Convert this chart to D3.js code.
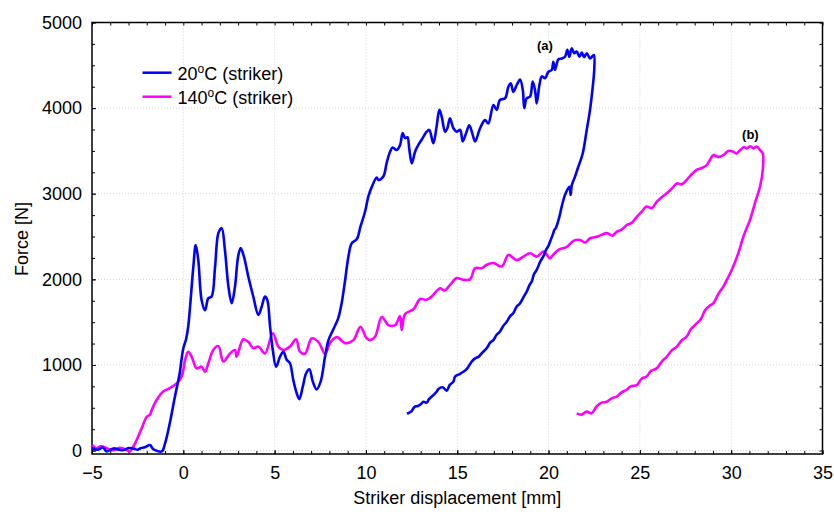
<!DOCTYPE html>
<html lang="en">
<head>
<meta charset="utf-8">
<title>Force vs striker displacement</title>
<script src="https://cdn.jsdelivr.net/npm/d3@7"></script>
<style>
  body { margin: 0; background: #fff; }
  #chart text { font-family: "Liberation Sans", Arial, sans-serif; fill: #000; }
  .grid line { stroke: #d4d4d4; stroke-width: 1; stroke-dasharray: 1,2; }
  .axis path { display: none; }
  .axis line { stroke: #000; stroke-width: 1; }
</style>
</head>
<body>
<div id="chart"></div>
<script>
"use strict"

// 20 C (striker) – displacement [mm] and force [N]
var disp20 = [-5.0, -4.7, -4.4, -4.2, -3.83, -3.5, -3.29, -3.0, -2.74, -2.5, -2.37, -2.1, -1.82, -1.7, -1.55, -1.18, -1.0, -0.73, -0.45, -0.2, -0.1, 0.0, 0.15, 0.27, 0.37, 0.55, 0.68, 0.82, 1.0, 1.19, 1.37, 1.55, 1.74, 1.92, 2.1, 2.28, 2.47, 2.65, 2.83, 3.0, 3.14, 3.32, 3.56, 3.83, 4.11, 4.29, 4.47, 4.6, 4.75, 4.9, 5.08, 5.3, 5.48, 5.66, 5.84, 6.02, 6.21, 6.35, 6.54, 6.72, 6.9, 7.09, 7.3, 7.52, 7.76, 7.95, 8.2, 8.48, 8.67, 8.86, 9.04, 9.22, 9.5, 9.7, 9.95, 10.13, 10.32, 10.59, 10.68, 10.95, 11.13, 11.32, 11.46, 11.68, 11.87, 12.01, 12.14, 12.27, 12.38, 12.51, 12.69, 12.87, 13.05, 13.2, 13.33, 13.47, 13.69, 13.87, 14.02, 14.15, 14.33, 14.46, 14.6, 14.79, 14.97, 15.16, 15.3, 15.48, 15.66, 15.85, 15.98, 16.25, 16.52, 16.7, 16.98, 17.16, 17.34, 17.62, 17.8, 17.93, 18.07, 18.26, 18.44, 18.59, 18.67, 18.8, 18.99, 19.13, 19.26, 19.35, 19.5, 19.63, 19.81, 19.99, 20.17, 20.26, 20.35, 20.54, 20.72, 20.9, 21.03, 21.14, 21.27, 21.4, 21.54, 21.69, 21.82, 21.94, 22.09, 22.27, 22.42, 22.49,
  22.5, 22.42, 22.27, 22.09, 21.87, 21.63, 21.45, 21.27, 21.21, 21.14, 20.9, 20.72, 20.59, 20.4, 20.3, 20.26, 20.1, 19.99, 19.85, 19.72, 19.55, 19.35, 19.2, 19.08, 18.95, 18.8, 18.62, 18.44, 18.25, 18.07, 17.9, 17.71, 17.5, 17.34, 17.15, 16.98, 16.8, 16.61, 16.4, 16.16, 16.0, 15.79, 15.55, 15.33, 15.1, 14.88, 14.79, 14.6, 14.42, 14.2, 13.97, 13.88, 13.75, 13.6, 13.45, 13.33, 13.15, 13.0, 12.85, 12.69, 12.6, 12.5, 12.42, 12.25];
var force20 = [30, 10, 35, -10, 25, 10, 5, 30, 25, 10, 25, 40, 65, 30, 5, -10, 85, 330, 640, 900, 1060, 1195, 1300, 1450, 1680, 2150, 2400, 2225, 1760, 1640, 1780, 1800, 2150, 2540, 2600, 2340, 1915, 1720, 1915, 2265, 2365, 2265, 2030, 1800, 1585, 1680, 1800, 1760, 1450, 1175, 980, 1100, 1155, 1060, 1020, 825, 670, 600, 745, 900, 950, 805, 715, 805, 1095, 1290, 1410, 1545, 1720, 1990, 2265, 2420, 2470, 2615, 2790, 2965, 3080, 3190, 3160, 3200, 3355, 3490, 3540, 3510, 3570, 3710, 3650, 3660, 3510, 3355, 3490, 3570, 3630, 3685, 3725, 3745, 3590, 3785, 3980, 3900, 3725, 3765, 3880, 3765, 3725, 3745, 3610, 3705, 3800, 3685, 3610, 3765, 3860, 3820, 4035, 3980, 4095, 4115, 4250, 4290, 4190, 4270, 4335, 4210, 4000, 4115, 4135, 4310, 4210, 4055, 4270, 4370, 4350, 4425, 4445, 4540, 4445, 4570, 4580, 4600, 4680, 4600, 4700, 4640, 4660, 4600, 4650, 4595, 4640, 4580, 4610, 4620,
  4445, 4250, 3980, 3745, 3470, 3315, 3200, 3100, 2985, 3080, 2985, 2850, 2730, 2600, 2570, 2540, 2450, 2390, 2340, 2270, 2210, 2110, 2060, 1975, 1930, 1855, 1790, 1720, 1680, 1605, 1570, 1505, 1450, 1390, 1350, 1290, 1260, 1195, 1150, 1095, 1080, 1040, 960, 920, 890, 865, 805, 770, 700, 740, 720, 690, 660, 630, 600, 560, 570, 540, 520, 515, 495, 460, 450, 430];

// 140 C (striker)
var disp140 = [-5.0, -4.74, -4.55, -4.38, -4.1, -3.83, -3.55, -3.29, -3.1, -2.92, -2.74, -2.55, -2.28, -2.0, -1.82, -1.73, -1.46, -1.1, -0.73, -0.36, -0.09, 0.1, 0.27, 0.46, 0.73, 1.0, 1.19, 1.37, 1.64, 1.92, 2.19, 2.56, 2.83, 2.92, 3.28, 3.56, 3.83, 4.11, 4.47, 4.9, 5.2, 5.48, 5.84, 6.17, 6.39, 6.66, 7.03, 7.39, 7.76, 8.03, 8.4, 8.86, 9.31, 9.7, 10.04, 10.22, 10.5, 10.87, 11.23, 11.6, 11.87, 11.96, 12.14, 12.6, 12.97, 13.3, 13.6, 14.06, 14.3, 14.61, 14.97, 15.33, 15.7, 15.98, 16.34, 16.61, 16.98, 17.44, 17.8, 18.26, 18.62, 18.99, 19.35, 19.72, 20.08, 20.17, 20.54, 21.0, 21.36, 21.72, 22.0, 22.27, 22.7, 23.18, 23.5, 23.73, 24.0, 24.28, 24.55, 24.83, 25.1, 25.37, 25.65, 25.92, 26.2, 26.47, 26.75, 27.02, 27.3, 27.56, 27.85, 28.11, 28.4, 28.66, 28.85, 29.02, 29.3, 29.57, 29.85, 30.12, 30.3, 30.49, 30.7, 30.85, 31.05, 31.22, 31.4, 31.58, 31.73,
  31.73, 31.58, 31.3, 31.03, 30.67, 30.39, 30.03, 29.8, 29.57, 29.3, 29.02, 28.8, 28.57, 28.35, 28.11, 27.8, 27.56, 27.3, 27.02, 26.75, 26.47, 26.2, 25.92, 25.6, 25.37, 25.1, 24.83, 24.5, 24.28, 24.0, 23.73, 23.45, 23.18, 22.9, 22.63, 22.36, 22.09, 21.8, 21.54];
var force140 = [65, 25, 50, 45, 20, 5, 30, 25, 5, -10, 45, 125, 260, 395, 420, 475, 590, 690, 730, 785, 865, 1060, 1155, 1095, 960, 980, 920, 1020, 1175, 1220, 1040, 1135, 1175, 1095, 1300, 1270, 1195, 1215, 1135, 1370, 1215, 1175, 1215, 1300, 1155, 1130, 1310, 1270, 1130, 1255, 1325, 1255, 1290, 1445, 1310, 1290, 1330, 1560, 1465, 1465, 1570, 1410, 1595, 1650, 1770, 1760, 1800, 1895, 1870, 1935, 2015, 1995, 2000, 2130, 2130, 2170, 2190, 2150, 2285, 2225, 2265, 2305, 2265, 2325, 2245, 2265, 2345, 2380, 2450, 2460, 2430, 2480, 2500, 2540, 2510, 2555, 2580, 2635, 2660, 2730, 2790, 2850, 2830, 2905, 2960, 3005, 3060, 3120, 3110, 3160, 3230, 3280, 3300, 3335, 3400, 3450, 3430, 3450, 3500, 3490, 3470, 3510, 3545, 3530, 3555, 3530, 3550, 3510, 3470,
  3280, 3085, 2890, 2695, 2500, 2305, 2110, 2010, 1915, 1830, 1720, 1690, 1640, 1540, 1485, 1420, 1330, 1290, 1215, 1170, 1095, 1040, 960, 930, 865, 840, 765, 750, 710, 680, 630, 610, 570, 560, 515, 435, 455, 420, 435];

var xTicks = [-5, 0, 5, 10, 15, 20, 25, 30, 35];
var yTicks = [0, 1000, 2000, 3000, 4000, 5000];
var seriesNames = ["20", "140"];

function desenha() {
  var larguraSVG = 834, alturaSVG = 514;
  var margin = {top: 22.5, right: 11.5, bottom: 60, left: 92},
      larguraVis = larguraSVG - margin.left - margin.right,
      alturaVis = alturaSVG - margin.top - margin.bottom;

  var svg = d3.select('#chart').append('svg')
      .attr('width', larguraSVG)
      .attr('height', alturaSVG);
  var g = svg.append('g')
      .attr('transform', 'translate(' + margin.left + ',' + margin.top + ')');

  var x = d3.scaleLinear().domain([-5, 35]).range([0, larguraVis]);
  var y = d3.scaleLinear().domain([-40, 5000]).range([alturaVis, 0]);

  // grade pontilhada nas marcas principais
  var grid = g.append('g').attr('class', 'grid');
  grid.selectAll('.gx').data(xTicks.slice(1, -1)).enter().append('line')
      .attr('x1', d => x(d)).attr('x2', d => x(d))
      .attr('y1', 0).attr('y2', alturaVis);
  grid.selectAll('.gy').data(yTicks.slice(0, -1)).enter().append('line')
      .attr('x1', 0).attr('x2', larguraVis)
      .attr('y1', d => y(d)).attr('y2', d => y(d));

  var xMinor = d3.range(-5, 36, 1);
  var yMinor = d3.range(0, 5001, 250);

  // eixos (marcas para dentro)
  g.append('g').attr('class', 'axis')
      .attr('transform', 'translate(0,' + alturaVis + ')')
      .call(d3.axisBottom(x).tickValues(xMinor).tickSize(-3).tickFormat(''));
  g.append('g').attr('class', 'axis')
      .attr('transform', 'translate(0,' + alturaVis + ')')
      .call(d3.axisBottom(x).tickValues(xTicks).tickSize(-4).tickPadding(12))
      .selectAll('text').style('font-size', '18px');
  g.append('g').attr('class', 'axis')
      .call(d3.axisTop(x).tickValues(xMinor).tickSize(-3).tickFormat(''));

  g.append('g').attr('class', 'axis')
      .call(d3.axisLeft(y).tickValues(yMinor).tickSize(-3).tickFormat(''));
  g.append('g').attr('class', 'axis')
      .call(d3.axisLeft(y).tickValues(yTicks).tickSize(-4).tickPadding(10).tickFormat(d3.format('d')))
      .selectAll('text').style('font-size', '18px');
  g.append('g').attr('class', 'axis')
      .attr('transform', 'translate(' + larguraVis + ',0)')
      .call(d3.axisRight(y).tickValues(yMinor).tickSize(-3).tickFormat(''));

  g.append('rect')
      .attr('width', larguraVis).attr('height', alturaVis)
      .attr('fill', 'none').attr('stroke', '#000').attr('stroke-width', 1.5);

  // curvas
  var cores = {"20": "#0000ff", "140": "#ff00ff"};
  var dados = {
    "20": disp20.map((d, i) => [d, force20[i]]),
    "140": disp140.map((d, i) => [d, force140[i]])
  };
  var linha = d3.line().curve(d3.curveCatmullRom.alpha(0.5))
      .x(d => x(d[0])).y(d => y(d[1]));

  ["140", "20"].forEach(function(s) {
    g.append('path')
        .datum(dados[s])
        .attr('d', linha)
        .attr('fill', 'none')
        .attr('stroke', cores[s])
        .attr('stroke-width', 2.6)
        .attr('stroke-linejoin', 'round');
  });

  // rótulos (a) e (b)
  g.append('text').attr('x', x(19.8)).attr('y', y(4680))
      .attr('text-anchor', 'middle').style('font-size', '13px').style('font-weight', 'bold')
      .text('(a)');
  g.append('text').attr('x', x(31.05)).attr('y', y(3640))
      .attr('text-anchor', 'middle').style('font-size', '13px').style('font-weight', 'bold')
      .text('(b)');

  // legenda
  var leg = g.append('g').attr('transform', 'translate(' + (142.5 - margin.left) + ',' + (72.7 - margin.top) + ')');
  seriesNames.forEach(function(s, i) {
    var row = leg.append('g').attr('transform', 'translate(0,' + (i * 24) + ')');
    row.append('line').attr('x1', 0).attr('x2', 29).attr('y1', 0).attr('y2', 0)
        .attr('stroke', cores[s]).attr('stroke-width', 2.5);
    var t = row.append('text').attr('x', 35).attr('y', 7).style('font-size', '18px');
    t.append('tspan').text(s);
    t.append('tspan').attr('dy', -7).style('font-size', '12px').text('o');
    t.append('tspan').attr('dy', 7).text('C (striker)');
  });

  // títulos dos eixos
  svg.append('text')
      .attr('x', margin.left + larguraVis / 2).attr('y', 504)
      .attr('text-anchor', 'middle').style('font-size', '18px')
      .text('Striker displacement [mm]');
  svg.append('text')
      .attr('transform', 'translate(28,239) rotate(-90)')
      .attr('text-anchor', 'middle').style('font-size', '18px')
      .text('Force [N]');
}

desenha();
</script>
</body>
</html>
